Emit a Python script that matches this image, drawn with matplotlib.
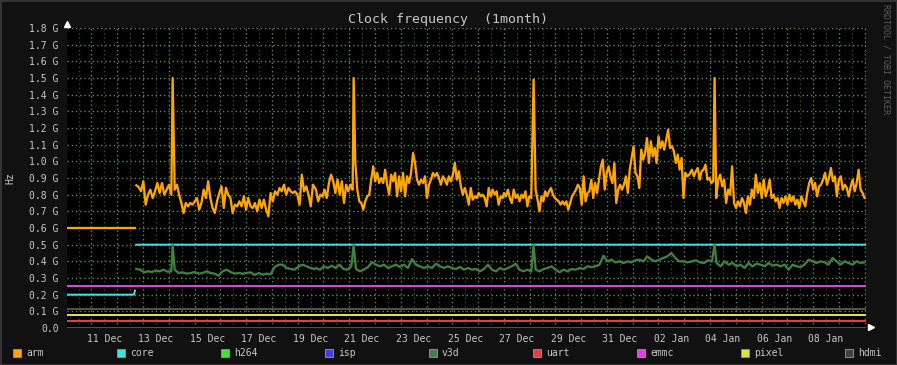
import numpy as np
import matplotlib
matplotlib.use("Agg")
import matplotlib.pyplot as plt
from matplotlib.patches import Rectangle

# --- data (MHz, time in days since 11 Dec 00:00) ---
t_first, t_last = -1.447, 29.55

day_ticks = [0, 2, 4, 6, 8, 10, 12, 14, 16, 18, 20, 22, 24, 26, 28]
day_labels = ["11 Dec", "13 Dec", "15 Dec", "17 Dec", "19 Dec", "21 Dec", "23 Dec",
              "25 Dec", "27 Dec", "29 Dec", "31 Dec", "02 Jan", "04 Jan", "06 Jan", "08 Jan"]

spike_days = [2.652, 9.673, 16.655, 23.676]
arm_spikes = [1500, 1500, 1490, 1500]
v3d_spikes = [500, 500, 500, 500]

arm_left = 600
arm_chunks = [
    (1.243, 2.600, [856, 846, 820, 880, 740, 800, 830, 780, 820, 870, 810, 870, 800, 830, 860, 800]),
    (2.730, 8.095, [830, 860, 800, 750, 690, 750, 730, 750, 740, 760, 780, 710, 750, 830, 780, 880,
                    780, 720, 690, 760, 810, 850, 720, 840, 800, 780, 690, 740, 730, 760, 730, 790,
                    710, 780, 730, 720, 750, 700, 770, 720, 770, 710, 670, 810, 760, 820, 800, 840,
                    820, 860, 800, 840, 820, 810, 820, 800, 740, 920, 820, 850, 800, 730, 860]),
    (8.212, 9.634, [830, 760, 800, 790, 830, 780, 870, 920, 880, 810, 890, 800, 880, 750, 860, 820,
                    860, 830]),
    (9.738, 15.453, [990, 830, 760, 750, 710, 760, 790, 800, 890, 970, 880, 930, 870, 900, 870, 950,
                     860, 800, 920, 880, 930, 790, 910, 820, 930, 790, 910, 870, 930, 1050, 990, 890,
                     860, 890, 870, 910, 780, 860, 890, 930, 910, 930, 900, 860, 910, 890, 860, 910,
                     880, 920, 990, 890, 940, 850, 800, 840, 800, 740, 840, 770, 790, 780, 810, 790,
                     800, 780, 730, 840, 790, 830, 800, 820, 740, 790, 780]),
    (15.505, 16.564, [810, 790, 830, 780, 750, 830, 780, 800, 760, 800, 780, 820, 730, 790, 780]),
    (16.733, 22.693, [830, 770, 700, 790, 760, 820, 790, 820, 840, 800, 780, 770, 760, 740, 760, 740,
                      760, 710, 750, 790, 810, 830, 860, 840, 740, 910, 760, 810, 820, 890, 780, 870,
                      810, 890, 970, 1010, 830, 930, 970, 910, 870, 990, 750, 830, 860, 830, 860, 910,
                      810, 950, 1020, 1090, 930, 910, 840, 1070, 1010, 1050, 1140, 990, 1120, 1030,
                      1080, 990, 1150, 1080, 1120, 1070, 1130, 1190, 1080, 1090, 1060, 990, 1040, 950,
                      1020, 780, 930, 910, 920]),
    (22.797, 23.624, [950, 910, 940, 960, 890, 940, 950, 980, 890, 900, 870, 880]),
    (23.741, 29.494, [780, 890, 920, 850, 890, 750, 830, 800, 970, 750, 720, 760, 730, 780, 750, 690,
                      790, 740, 830, 780, 920, 810, 870, 780, 890, 790, 830, 890, 780, 800, 760, 780,
                      720, 780, 750, 790, 740, 800, 760, 790, 740, 770, 720, 790, 760, 730, 810, 870,
                      900, 830, 870, 790, 850, 860, 890, 930, 860, 900, 960, 880, 910, 790, 890, 910,
                      830, 860, 840, 790, 850, 890, 820, 870, 950, 830, 810, 780]),
]

v3d_chunks = [
    (1.243, 2.600, [354, 350, 334, 340, 336, 344, 340, 350, 338, 340]),
    (2.730, 8.160, [350, 330, 334, 326, 330, 336, 326, 330, 340, 330, 326, 314, 340, 350, 336, 326,
                    330, 326, 330, 334, 318, 330, 320, 326, 322, 366, 380, 380, 360, 354, 350, 370,
                    380, 370, 360, 354]),
    (8.212, 9.582, [360, 350, 370, 360, 374, 360, 380, 354, 350, 370]),
    (9.763, 15.349, [354, 340, 350, 366, 394, 380, 370, 380, 360, 370, 380, 366, 380, 360, 414, 380,
                     370, 360, 370, 360, 386, 370, 360, 370, 360, 354, 366, 350, 360, 350, 354, 340,
                     354, 380, 350, 340, 360]),
    (15.505, 16.564, [350, 360, 370, 386, 350, 340, 350, 340]),
    (16.733, 22.615, [350, 340, 354, 360, 370, 350, 334, 350, 340, 354, 350, 360, 354, 370, 366, 370,
                      380, 434, 400, 410, 394, 400, 390, 400, 394, 406, 410, 400, 430, 410, 400, 410,
                      420, 430, 450, 420, 400, 400, 394]),
    (22.797, 23.573, [400, 406, 394, 390, 406, 400]),
    (23.754, 29.494, [390, 370, 400, 380, 390, 370, 380, 360, 390, 370, 386, 380, 370, 390, 374, 380,
                      370, 380, 350, 380, 370, 366, 380, 410, 400, 390, 400, 394, 380, 420, 400, 380,
                      400, 390, 380, 400, 390, 394]),
]

core_days = [t_first, 1.15, 1.19, np.nan, 1.24, t_last]
core_vals = [200, 200, 225, np.nan, 500, 500]

h264_val = 0
isp_val = 0
uart_val = 45
emmc_val = 250
pixel_val = 78
hdmi_val = 115

names = ["arm", "core", "h264", "isp", "v3d", "uart", "emmc", "pixel", "hdmi"]
colors = ["#FFA500", "#40E0E0", "#40E040", "#4040E0", "#408040",
          "#E04040", "#E040E0", "#E0E040", "#404040"]


def build(chunks, sp_days, sp_vals):
    t, v = [], []
    for a, b, vals in chunks:
        t.append(np.linspace(a, b, len(vals)))
        v.append(np.array(vals, float))
    t.append(np.array(sp_days))
    v.append(np.array(sp_vals, float))
    t = np.concatenate(t)
    v = np.concatenate(v)
    o = np.argsort(t)
    return t[o], v[o]


arm_t, arm_v = build(arm_chunks, spike_days, arm_spikes)
v3d_t, v3d_v = build(v3d_chunks, spike_days, v3d_spikes)
arm_t = np.concatenate([[t_first, 1.19, 1.21], arm_t])
arm_v = np.concatenate([[arm_left, arm_left, np.nan], arm_v])

# --- figure ---
plt.rcParams["font.family"] = "DejaVu Sans Mono"
fg = "#c8c8c8"
px = 0.72  # one pixel in points at dpi 100

fig = plt.figure(figsize=(8.97, 3.65), dpi=100, facecolor="#111111")
ax = fig.add_axes([67 / 897, 37 / 365, 799 / 897, 300 / 365])
ax.set_facecolor("#000000")
ax.set_xlim(t_first, t_last)
ax.set_ylim(0, 1.8e9)
for s in ax.spines.values():
    s.set_visible(False)

dots = (0, (1, 2))
for d in np.arange(-1, 30):
    ax.axvline(d, color="#45451c", lw=px * 1.4, ls=dots, zorder=0)
for d in np.arange(-0.5, 30):
    ax.axvline(d, color="#5b8a5b", lw=px * 1.4, ls=dots, zorder=0)
yt = np.arange(0, 1.81e9, 1e8)
for y in yt:
    ax.axhline(y, color="#5b8a5b", lw=px * 1.4, ls=dots, zorder=0)

lw2 = 2 * px
ax.plot(arm_t, arm_v * 1e6, color=colors[0], lw=2.3 * px, zorder=3)
ax.plot(core_days, np.array(core_vals) * 1e6, color=colors[1], lw=lw2, zorder=3)
ax.plot([t_first, t_last], [h264_val * 1e6] * 2, color=colors[2], lw=lw2, zorder=3)
ax.plot([t_first, t_last], [isp_val * 1e6] * 2, color="#2a2a90", lw=1.5 * px, zorder=3)
ax.plot(v3d_t, v3d_v * 1e6, color=colors[4], lw=2.3 * px, zorder=3)
ax.plot([t_first, t_last], [uart_val * 1e6] * 2, color=colors[5], lw=lw2, zorder=3)
ax.plot([t_first, t_last], [emmc_val * 1e6] * 2, color=colors[6], lw=lw2, zorder=3)
ax.plot([t_first, t_last], [pixel_val * 1e6] * 2, color=colors[7], lw=lw2, zorder=3)
ax.plot([t_first, t_last], [hdmi_val * 1e6] * 2, color="#505050", lw=lw2, zorder=3)

ax.set_yticks(yt)
ax.set_yticklabels(["0.0" if v == 0 else f"{v / 1e9:.1f} G" for v in yt])
ax.set_xticks(day_ticks)
ax.set_xticklabels(day_labels)
ax.tick_params(length=0, labelsize=7, colors=fg)
ax.tick_params(axis="y", pad=6)
ax.tick_params(axis="x", pad=4)

# arrows at the axis ends
ax.plot([0], [1.014], marker="^", color="white", ms=4.5, transform=ax.transAxes, clip_on=False)
ax.plot([1.006], [0.002], marker=">", color="white", ms=4.5, transform=ax.transAxes, clip_on=False)

fig.text(448 / 897, 1 - 19 / 365, "Clock frequency  (1month)", ha="center", va="center",
         color=fg, fontsize=9.5)
fig.text(10 / 897, 1 - 178 / 365, "Hz", rotation=90, ha="center", va="center", color=fg, fontsize=7)
fig.text(886 / 897, 1 - 4 / 365, "RRDTOOL / TOBI OETIKER", rotation=270, ha="center", va="top",
         color="#5c5c5c", fontsize=6)

# legend
for i, (n, c) in enumerate(zip(names, colors)):
    cx = 17 + 104 * i
    fig.patches.append(Rectangle(((cx - 4) / 897, (12 - 4) / 365), 8 / 897, 8 / 365,
                                 transform=fig.transFigure, facecolor=c, edgecolor="#8a8a8a",
                                 lw=px))
    fig.text((cx + 9) / 897, 12.5 / 365, n, ha="left", va="center", color=fg, fontsize=7)

fig.patches.append(Rectangle((0, 0), 1, 1, transform=fig.transFigure, fill=False,
                             edgecolor="#333333", lw=3 * px))

fig.savefig("out.png", dpi=100, facecolor=fig.get_facecolor())
